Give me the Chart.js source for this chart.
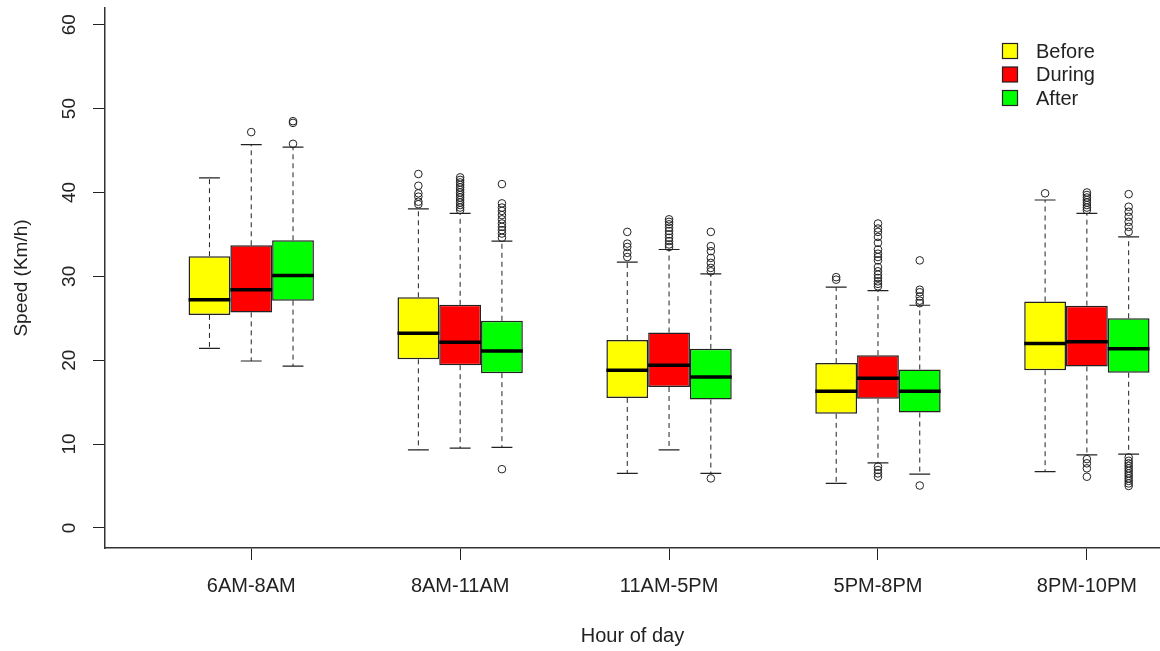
<!DOCTYPE html>
<html>
<head>
<meta charset="utf-8">
<script src="https://cdn.jsdelivr.net/npm/chart.js@4/dist/chart.umd.min.js"></script>
<style>
    html, body { margin: 0; padding: 0; background: #fff; }
    #wrap { width: 1160px; height: 651px; position: relative; }
</style>
</head>
<body>
<div id="wrap"><canvas id="chart"></canvas></div>
<script>
// Categories and series
const CATEGORIES = ['6AM-8AM', '8AM-11AM', '11AM-5PM', '5PM-8PM', '8PM-10PM'];
const SERIES = ['Before', 'During', 'After'];
const COLORS = ['#ffff00', '#ff0000', '#00ff00'];
const Y_TICKS = [0, 10, 20, 30, 40, 50, 60];

// Box stats per category: [lower whisker, Q1, median, Q3, upper whisker]
const BEFORE_STATS = [
    [21.4, 25.4, 27.2, 32.4, 41.75],
    [9.3, 20.1, 23.2, 27.5, 38.05],
    [6.5, 15.5, 18.8, 22.4, 31.7],
    [5.3, 13.6, 16.3, 19.65, 28.7],
    [6.7, 18.8, 22.0, 27.0, 39.1]
];
const DURING_STATS = [
    [19.9, 25.7, 28.4, 33.7, 45.7],
    [9.5, 19.4, 22.15, 26.6, 37.5],
    [9.3, 16.8, 19.4, 23.3, 33.2],
    [7.75, 15.4, 17.85, 20.6, 28.3],
    [8.7, 19.25, 22.2, 26.5, 37.5]
];
const AFTER_STATS = [
    [19.3, 27.1, 30.1, 34.3, 45.4],
    [9.6, 18.45, 21.1, 24.7, 34.2],
    [6.5, 15.3, 18.0, 21.35, 30.3],
    [6.4, 13.75, 16.3, 18.9, 26.55],
    [8.8, 18.5, 21.35, 25.0, 34.7]
];

// Outliers per category
const BEFORE_OUTLIERS = [
    [],
    [42.2, 40.8, 39.9, 39.5, 38.9, 38.6],
    [35.3, 33.9, 33.5, 32.8, 32.3],
    [29.9, 29.6],
    [39.9]
];
const DURING_OUTLIERS = [
    [47.2],
    [41.8, 41.5, 41.2, 40.9, 40.6, 40.3, 40.0, 39.7, 39.4, 39.1, 38.8, 38.5, 38.2, 37.9],
    [36.8, 36.5, 36.2, 35.8, 35.4, 35.0, 34.6, 34.2, 33.8, 33.5],
    [36.3, 35.7, 35.3, 34.7, 34.0, 33.2, 32.7, 32.3, 31.9, 31.1, 30.6, 30.2, 29.8, 29.4, 29.1, 28.8,
     7.3, 6.9, 6.5, 6.1],
    [40.0, 39.7, 39.4, 39.1, 38.8, 38.5, 38.2, 37.9, 8.2, 7.7, 7.1, 6.1]
];
const AFTER_OUTLIERS = [
    [48.5, 48.3, 45.8],
    [41.0, 38.7, 38.2, 37.8, 37.3, 36.8, 36.3, 35.9, 35.5, 35.1, 34.6, 7.0],
    [35.3, 33.6, 33.0, 32.2, 31.6, 31.0, 30.6, 5.9],
    [31.9, 28.4, 28.1, 27.6, 27.1, 26.8, 5.05],
    [39.8, 38.3, 37.7, 37.1, 36.5, 35.9, 35.3,
     8.4, 8.0, 7.7, 7.4, 7.1, 6.8, 6.5, 6.2, 5.9, 5.6, 5.3, 5.0]
];

const STATS = [BEFORE_STATS, DURING_STATS, AFTER_STATS];
const OUTLIERS = [BEFORE_OUTLIERS, DURING_OUTLIERS, AFTER_OUTLIERS];

const FONT = 'Liberation Sans, Arial, sans-serif';
const INK = '#222';

/**
 * Whiskers, medians, outliers, rotated y labels and legend
 */
const boxplotPlugin = {
    id: 'boxplot',
    afterDatasetsDraw(chart) {
        const ctx = chart.ctx;
        const y = chart.scales.y;

        chart.data.datasets.forEach((ds, di) => {
            const meta = chart.getDatasetMeta(di);
            meta.data.forEach((bar, j) => {
                const { x, width } = bar.getProps(['x', 'width'], true);
                const [lo, q1, med, q3, hi] = STATS[di][j];
                const half = width / 2;

                ctx.save();
                ctx.strokeStyle = INK;
                ctx.lineWidth = 1;

                // dashed whiskers
                ctx.setLineDash([5, 4]);
                ctx.beginPath();
                ctx.moveTo(x, y.getPixelForValue(q3));
                ctx.lineTo(x, y.getPixelForValue(hi));
                ctx.moveTo(x, y.getPixelForValue(q1));
                ctx.lineTo(x, y.getPixelForValue(lo));
                ctx.stroke();

                // caps
                ctx.setLineDash([]);
                ctx.lineWidth = 1.2;
                ctx.beginPath();
                ctx.moveTo(x - half / 2, y.getPixelForValue(hi));
                ctx.lineTo(x + half / 2, y.getPixelForValue(hi));
                ctx.moveTo(x - half / 2, y.getPixelForValue(lo));
                ctx.lineTo(x + half / 2, y.getPixelForValue(lo));
                ctx.stroke();

                // median
                ctx.strokeStyle = '#000';
                ctx.lineWidth = 3.5;
                ctx.beginPath();
                ctx.moveTo(x - half, y.getPixelForValue(med));
                ctx.lineTo(x + half, y.getPixelForValue(med));
                ctx.stroke();

                // outliers
                ctx.strokeStyle = INK;
                ctx.lineWidth = 1;
                OUTLIERS[di][j].forEach(v => {
                    ctx.beginPath();
                    ctx.arc(x, y.getPixelForValue(v), 3.8, 0, Math.PI * 2);
                    ctx.stroke();
                });
                ctx.restore();
            });
        });
    },
    afterDraw(chart) {
        const ctx = chart.ctx;
        const y = chart.scales.y;

        // y tick labels, rotated like R
        ctx.save();
        ctx.fillStyle = INK;
        ctx.font = '19px ' + FONT;
        ctx.textAlign = 'center';
        ctx.textBaseline = 'middle';
        y.ticks.forEach(t => {
            ctx.save();
            ctx.translate(70, y.getPixelForValue(t.value));
            ctx.rotate(-Math.PI / 2);
            ctx.fillText(String(t.value), 0, 0);
            ctx.restore();
        });
        ctx.restore();

        // legend
        ctx.save();
        ctx.font = '20px ' + FONT;
        ctx.textBaseline = 'middle';
        chart.data.datasets.forEach((ds, i) => {
            const cy = 51 + i * 23.5;
            ctx.fillStyle = ds.backgroundColor;
            ctx.fillRect(1002.5, cy - 7.5, 15, 15);
            ctx.strokeStyle = INK;
            ctx.lineWidth = 1.2;
            ctx.strokeRect(1002.5, cy - 7.5, 15, 15);
            ctx.fillStyle = INK;
            ctx.fillText(ds.label, 1036, cy + 1);
        });
        ctx.restore();
    }
};

const datasets = SERIES.map((name, si) => ({
    label: name,
    data: STATS[si].map((s, j) => ({ x: j + 1, y: [s[1], s[3]] })),
    backgroundColor: COLORS[si],
    borderColor: INK,
    borderWidth: 1.5,
    borderSkipped: false,
    categoryPercentage: 0.6,
    barPercentage: 1.0
}));

new Chart(document.getElementById('chart'), {
    type: 'bar',
    data: { datasets },
    options: {
        responsive: true,
        maintainAspectRatio: false,
        animation: false,
        layout: { padding: { top: 8, right: 0, bottom: 0, left: 0 } },
        plugins: {
            legend: { display: false },
            tooltip: { enabled: false }
        },
        scales: {
            x: {
                type: 'linear',
                min: 0.3,
                max: 5.35,
                offset: false,
                afterFit: (scale) => { scale.height = 103; },
                afterBuildTicks: (scale) => {
                    scale.ticks = CATEGORIES.map((_, i) => ({ value: i + 1 }));
                },
                grid: {
                    display: true,
                    offset: false,
                    drawOnChartArea: false,
                    drawTicks: true,
                    tickLength: 12,
                    color: INK
                },
                border: { display: true, color: '#333', width: 1.5 },
                ticks: {
                    color: INK,
                    padding: 14,
                    maxRotation: 0,
                    autoSkip: false,
                    font: { family: FONT, size: 20 },
                    callback: (v) => CATEGORIES[v - 1]
                },
                title: {
                    display: true,
                    text: 'Hour of day',
                    color: INK,
                    font: { family: FONT, size: 20 },
                    padding: { top: 0, bottom: 3 }
                }
            },
            y: {
                min: -2.4,
                max: 62,
                afterFit: (scale) => { scale.width = 105; },
                afterBuildTicks: (scale) => {
                    scale.ticks = Y_TICKS.map(v => ({ value: v }));
                },
                grid: {
                    display: true,
                    drawOnChartArea: false,
                    drawTicks: true,
                    tickLength: 12,
                    color: INK
                },
                border: { display: true, color: '#333', width: 1.5 },
                ticks: { display: false },
                title: {
                    display: true,
                    text: 'Speed (Km/h)',
                    color: INK,
                    font: { family: FONT, size: 19 },
                    padding: { top: 10, bottom: 0 }
                }
            }
        }
    },
    plugins: [boxplotPlugin]
});
</script>
</body>
</html>
